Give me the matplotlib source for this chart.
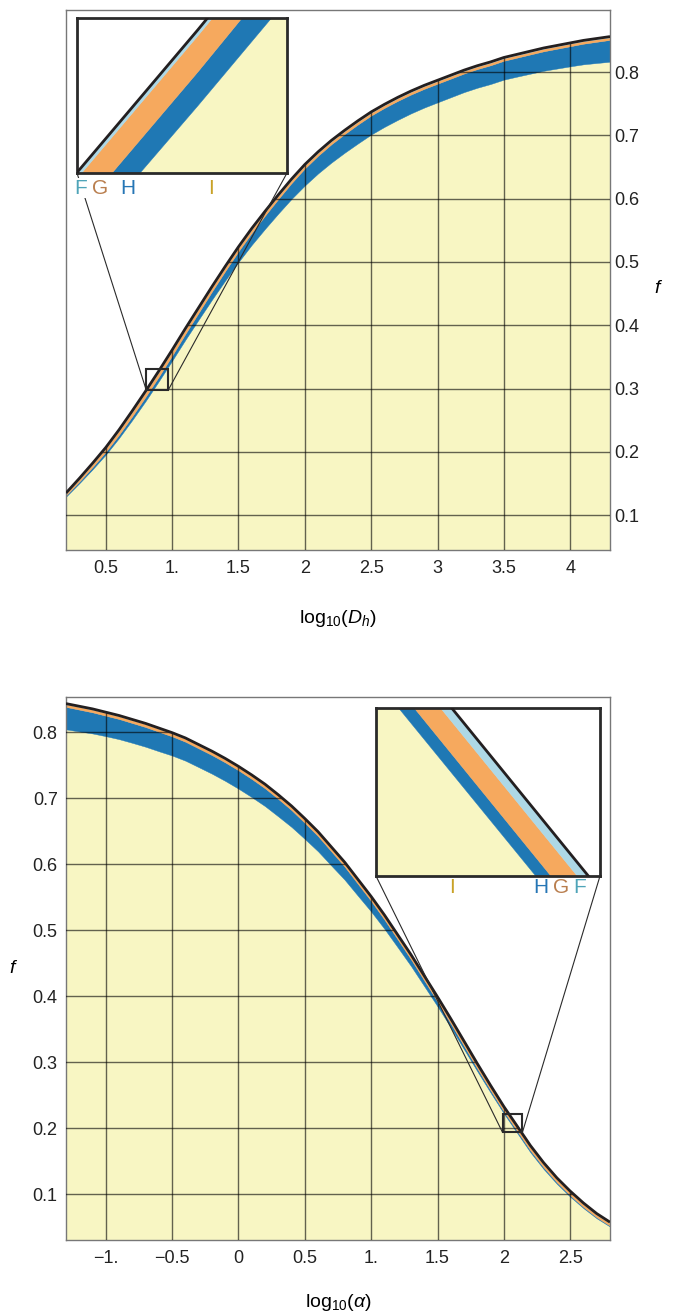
import numpy as np
import matplotlib
matplotlib.use("Agg")
import matplotlib.pyplot as plt
from matplotlib.patches import Polygon, Rectangle, ConnectionPatch

plt.rcParams["font.family"] = ["Liberation Sans", "DejaVu Sans"]
plt.rcParams["mathtext.fontset"] = "custom"
plt.rcParams["mathtext.rm"] = "Liberation Sans"
plt.rcParams["mathtext.it"] = "Liberation Sans:italic"

# ---------------------------------------------------------
# Datos
# ---------------------------------------------------------
# Panel superior: f frente a log10(D_h)
x_dh = [0.2, 0.3, 0.4, 0.5, 0.6, 0.7, 0.8, 0.9, 1.0, 1.1, 1.2, 1.3, 1.4, 1.5,
        1.6, 1.7, 1.8, 1.9, 2.0, 2.1, 2.2, 2.3, 2.4, 2.5, 2.6, 2.7, 2.8, 2.9,
        3.0, 3.1, 3.2, 3.3, 3.4, 3.5, 3.6, 3.7, 3.8, 3.9, 4.0, 4.1, 4.2, 4.3]
f_dh = [0.135, 0.158, 0.182, 0.207, 0.235, 0.265, 0.296, 0.328, 0.361, 0.395,
        0.428, 0.461, 0.493, 0.524, 0.553, 0.580, 0.606, 0.631, 0.654, 0.674,
        0.692, 0.708, 0.723, 0.737, 0.749, 0.760, 0.770, 0.779, 0.787, 0.795,
        0.803, 0.810, 0.816, 0.823, 0.828, 0.833, 0.838, 0.842, 0.846, 0.850,
        0.853, 0.856]
# anchos de las bandas F, G, H (por debajo de la curva negra)
ancho_F_dh = [0.0008, 0.0009, 0.0010, 0.0011, 0.0012, 0.0013, 0.0013, 0.0013,
              0.0013, 0.0012, 0.0012, 0.0012, 0.0012, 0.0012, 0.0012, 0.0012,
              0.0012, 0.0012, 0.0012, 0.0012, 0.0012, 0.0012, 0.0012, 0.0012,
              0.0012, 0.0012, 0.0012, 0.0012, 0.0012, 0.0012, 0.0012, 0.0012,
              0.0012, 0.0012, 0.0012, 0.0012, 0.0012, 0.0012, 0.0012, 0.0012,
              0.0012, 0.0012]
ancho_G_dh = [0.0030, 0.0040, 0.0050, 0.0058, 0.0066, 0.0072, 0.0076, 0.0077,
              0.0076, 0.0072, 0.0068, 0.0064, 0.0061, 0.0059, 0.0057, 0.0055,
              0.0053, 0.0051, 0.0050, 0.0049, 0.0048, 0.0047, 0.0046, 0.0045,
              0.0044, 0.0044, 0.0043, 0.0043, 0.0042, 0.0042, 0.0041, 0.0041,
              0.0041, 0.0040, 0.0040, 0.0040, 0.0040, 0.0040, 0.0040, 0.0040,
              0.0040, 0.0040]
ancho_H_dh = [0.0020, 0.0028, 0.0036, 0.0044, 0.0052, 0.0060, 0.0068, 0.0072,
              0.0080, 0.0094, 0.0110, 0.0130, 0.0150, 0.0170, 0.0190, 0.0210,
              0.0230, 0.0250, 0.0270, 0.0280, 0.0290, 0.0295, 0.0300, 0.0300,
              0.0300, 0.0300, 0.0298, 0.0296, 0.0295, 0.0294, 0.0294, 0.0295,
              0.0296, 0.0298, 0.0300, 0.0304, 0.0308, 0.0313, 0.0318, 0.0326,
              0.0335, 0.0345]

# Panel inferior: f frente a log10(alpha)
x_alfa = [-1.3, -1.2, -1.1, -1.0, -0.9, -0.8, -0.7, -0.6, -0.5, -0.4, -0.3,
          -0.2, -0.1, 0.0, 0.1, 0.2, 0.3, 0.4, 0.5, 0.6, 0.7, 0.8, 0.9, 1.0,
          1.1, 1.2, 1.3, 1.4, 1.5, 1.6, 1.7, 1.8, 1.9, 2.0, 2.1, 2.2, 2.3, 2.4,
          2.5, 2.6, 2.7, 2.8]
f_alfa = [0.843, 0.839, 0.835, 0.830, 0.825, 0.819, 0.813, 0.806, 0.799, 0.791,
          0.781, 0.771, 0.760, 0.748, 0.735, 0.721, 0.705, 0.688, 0.669, 0.649,
          0.626, 0.603, 0.577, 0.551, 0.523, 0.493, 0.463, 0.431, 0.399, 0.366,
          0.332, 0.298, 0.265, 0.233, 0.2035, 0.174, 0.148, 0.125, 0.105, 0.087,
          0.071, 0.058]
ancho_F_alfa = [0.0010, 0.0010, 0.0010, 0.0010, 0.0010, 0.0010, 0.0010, 0.0010,
                0.0010, 0.0010, 0.0010, 0.0010, 0.0010, 0.0010, 0.0010, 0.0010,
                0.0010, 0.0010, 0.0012, 0.0012, 0.0013, 0.0013, 0.0014, 0.0014,
                0.0015, 0.0015, 0.0016, 0.0017, 0.0017, 0.0018, 0.0019, 0.0020,
                0.0021, 0.0022, 0.0022, 0.0022, 0.0021, 0.0020, 0.0019, 0.0018,
                0.0017, 0.0016]
ancho_G_alfa = [0.0040, 0.0041, 0.0042, 0.0043, 0.0043, 0.0044, 0.0045, 0.0046,
                0.0046, 0.0047, 0.0048, 0.0049, 0.0050, 0.0050, 0.0051, 0.0052,
                0.0053, 0.0053, 0.0054, 0.0055, 0.0055, 0.0055, 0.0055, 0.0055,
                0.0055, 0.0055, 0.0055, 0.0055, 0.0055, 0.0055, 0.0055, 0.0054,
                0.0053, 0.0052, 0.0052, 0.0052, 0.0050, 0.0048, 0.0046, 0.0043,
                0.0040, 0.0038]
ancho_H_alfa = [0.0340, 0.0330, 0.0320, 0.0310, 0.0305, 0.0300, 0.0298, 0.0295,
                0.0290, 0.0287, 0.0284, 0.0282, 0.0280, 0.0278, 0.0275, 0.0270,
                0.0265, 0.0255, 0.0243, 0.0230, 0.0215, 0.0198, 0.0180, 0.0160,
                0.0140, 0.0120, 0.0102, 0.0086, 0.0072, 0.0060, 0.0050, 0.0042,
                0.0036, 0.0031, 0.0030, 0.0029, 0.0026, 0.0023, 0.0020, 0.0017,
                0.0015, 0.0013]

ticks_dh = [0.5, 1.0, 1.5, 2.0, 2.5, 3.0, 3.5, 4.0]
etiquetas_dh = ["0.5", "1.", "1.5", "2", "2.5", "3", "3.5", "4"]
ticks_alfa = [-1.0, -0.5, 0.0, 0.5, 1.0, 1.5, 2.0, 2.5]
etiquetas_alfa = ["\u22121.", "\u22120.5", "0", "0.5", "1.", "1.5", "2", "2.5"]
ticks_f = [0.1, 0.2, 0.3, 0.4, 0.5, 0.6, 0.7, 0.8]
etiquetas_f = ["0.1", "0.2", "0.3", "0.4", "0.5", "0.6", "0.7", "0.8"]

bandas = ["F", "G", "H", "I"]

# Colores
C_F = "#ADD8E6"
C_G = "#F6A95E"
C_H = "#1F78B4"
C_I = "#F8F6C3"
C_NEGRO = "#231F20"
COLOR_LETRA = {"F": "#4FA4B8", "G": "#B97E4E", "H": "#2676B5", "I": "#C9A227"}


def dibujar_bandas(ax, x, f, wF, wG, wH):
    x = np.array(x)
    tope = np.array(f)
    g_top = tope - np.array(wF)
    h_top = g_top - np.array(wG)
    i_top = h_top - np.array(wH)
    ax.fill_between(x, -1, i_top, color=C_I, lw=0.3, zorder=1)
    ax.fill_between(x, i_top, h_top, color=C_H, lw=0.3, zorder=1)
    ax.fill_between(x, h_top, g_top, color=C_G, lw=0.3, zorder=1)
    ax.fill_between(x, g_top, tope, color=C_F, lw=0.3, zorder=1)
    ax.plot(x, tope, color=C_NEGRO, lw=2, zorder=4, solid_capstyle="butt")


def panel(ax, x, f, wF, wG, wH, xticks, xlabels, xlim, ylim):
    dibujar_bandas(ax, x, f, wF, wG, wH)
    ax.set_xlim(*xlim)
    ax.set_ylim(*ylim)

    # rejilla solo bajo la curva negra
    verts = [(x[0], -1)] + list(zip(x, f)) + [(x[-1], -1)]
    clip = Polygon(verts, closed=True, transform=ax.transData)
    for xv in xticks:
        ln = ax.axvline(xv, color="k", lw=1.0, alpha=0.6, zorder=3)
        ln.set_clip_path(clip)
    for yv in ticks_f:
        ln = ax.axhline(yv, color="k", lw=1.0, alpha=0.6, zorder=3)
        ln.set_clip_path(clip)

    ax.set_xticks(xticks, xlabels)
    ax.set_yticks(ticks_f, etiquetas_f)
    ax.tick_params(length=0, labelsize=13, colors="#222222")
    for s in ax.spines.values():
        s.set_color("#777777")
        s.set_linewidth(1.0)


def inset(fig, ax, rect_fig, x, f, wF, wG, wH, xlim, ylim, pos_letras, y_letras):
    axins = fig.add_axes(rect_fig)
    dibujar_bandas(axins, x, f, wF, wG, wH)
    axins.set_xlim(*xlim)
    axins.set_ylim(*ylim)
    axins.set_xticks([])
    axins.set_yticks([])
    for s in axins.spines.values():
        s.set_color("#2a2a2a")
        s.set_linewidth(2.0)
    axins.set_zorder(10)

    # recuadro en el panel principal
    ax.add_patch(Rectangle((xlim[0], ylim[0]), xlim[1] - xlim[0], ylim[1] - ylim[0],
                           fill=False, ec="#2a2a2a", lw=1.5, zorder=6))
    for esquina_ins, esquina_dat in [((0, 0), (xlim[0], ylim[0])),
                                     ((1, 0), (xlim[1], ylim[0]))]:
        con = ConnectionPatch(xyA=esquina_ins, coordsA=axins.transAxes,
                              xyB=esquina_dat, coordsB=ax.transData,
                              color="#2a2a2a", lw=0.8, zorder=5)
        fig.add_artist(con)

    for letra, xp in zip(bandas, pos_letras):
        axins.text(xp, y_letras, letra, transform=axins.transAxes, ha="center",
                   va="center", fontsize=15, color=COLOR_LETRA[letra],
                   bbox=dict(fc="white", ec="none", pad=0.5), clip_on=False,
                   zorder=12)
    return axins


W, H = 676, 1315
fig = plt.figure(figsize=(W / 100, H / 100), dpi=100)


def rect(x0, y0, x1, y1):
    # pixeles (origen arriba a la izquierda) -> fracciones de figura
    return [x0 / W, 1 - y1 / H, (x1 - x0) / W, (y1 - y0) / H]


# Panel superior
ax1 = fig.add_axes(rect(66, 10, 610, 550))
panel(ax1, x_dh, f_dh, ancho_F_dh, ancho_G_dh, ancho_H_dh,
      ticks_dh, etiquetas_dh, (0.2, 4.3), (0.045, 0.898))
ax1.yaxis.tick_right()
ax1.tick_params(axis="y", pad=3)
ax1.tick_params(axis="x", pad=7)
ax1.set_xlabel(r"$\mathrm{log}_{10}(D_h)$", fontsize=14, va="center")
ax1.xaxis.set_label_coords(0.5, -0.126)
ax1.set_ylabel("f", fontsize=14, style="italic", rotation=0, va="center", ha="center")
ax1.yaxis.set_label_position("right")
ax1.yaxis.set_label_coords(1.086, 0.5)

inset(fig, ax1, rect(77, 18, 287, 173), x_dh, f_dh, ancho_F_dh, ancho_G_dh,
      ancho_H_dh, (0.805, 0.97), (0.2975, 0.3305),
      [0.019, 0.11, 0.243, 0.638], -0.097)

# Panel inferior
ax2 = fig.add_axes(rect(66, 697, 610, 1240))
panel(ax2, x_alfa, f_alfa, ancho_F_alfa, ancho_G_alfa, ancho_H_alfa,
      ticks_alfa, etiquetas_alfa, (-1.3, 2.8), (0.031, 0.853))
ax2.tick_params(axis="y", pad=6)
ax2.tick_params(axis="x", pad=7)
ax2.set_xlabel(r"$\mathrm{log}_{10}(\alpha)$", fontsize=14, va="center")
ax2.xaxis.set_label_coords(0.5, -0.116)
ax2.set_ylabel("f", fontsize=14, style="italic", rotation=0, va="center", ha="center")
ax2.yaxis.set_label_coords(-0.099, 0.5)

inset(fig, ax2, rect(376, 708, 600, 876), x_alfa, f_alfa, ancho_F_alfa,
      ancho_G_alfa, ancho_H_alfa, (1.99, 2.14), (0.194, 0.221),
      [0.911, 0.826, 0.737, 0.34], -0.071)

fig.savefig("out.png", dpi=100)
